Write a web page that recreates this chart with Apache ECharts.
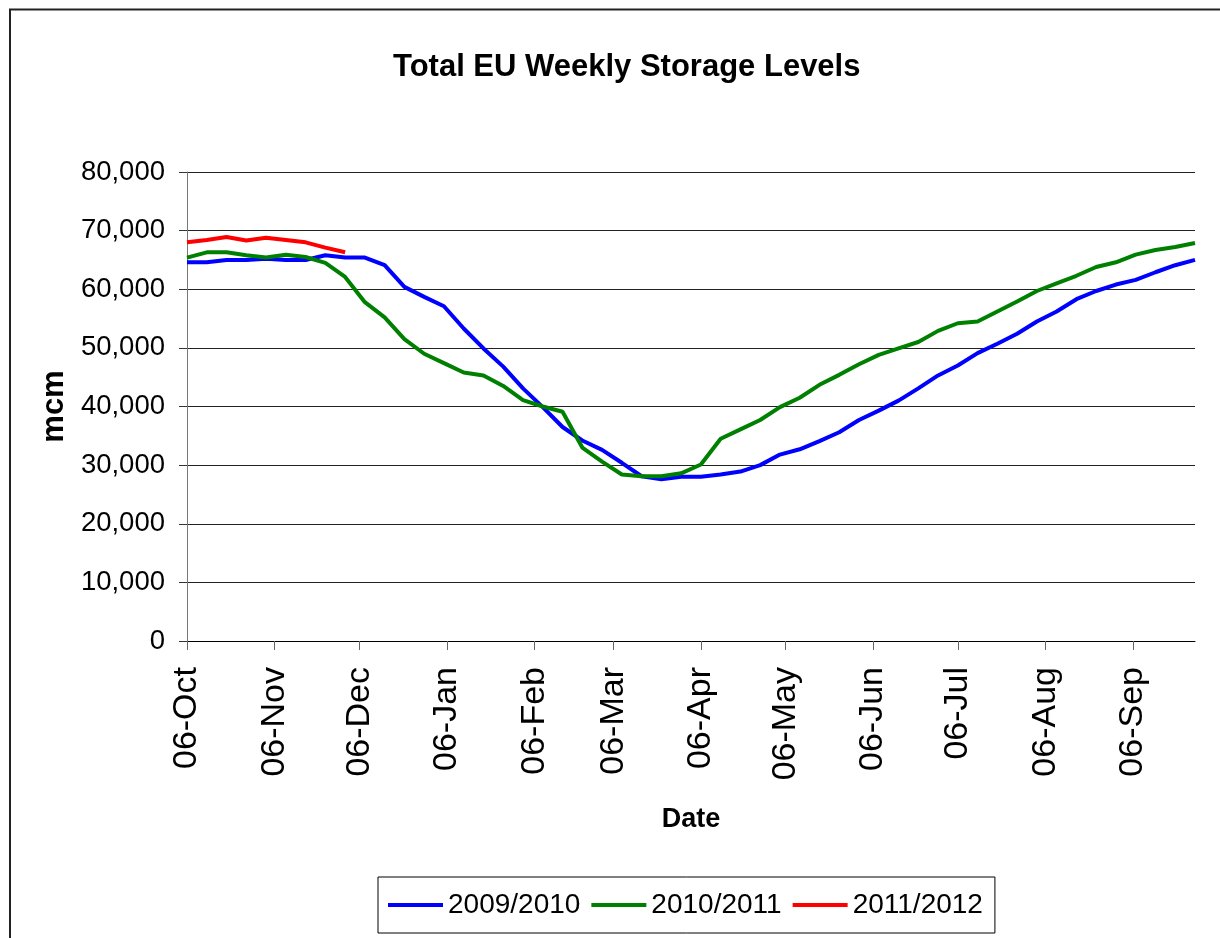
<!DOCTYPE html>
<html>
<head>
<meta charset="utf-8">
<title>Total EU Weekly Storage Levels</title>
<script src="https://cdn.jsdelivr.net/npm/echarts@6/dist/echarts.min.js"></script>
<style>
  html, body { margin: 0; padding: 0; background: #fff; }
  #chart { width: 1220px; height: 938px; }
</style>
</head>
<body>
<div id="chart"></div>
<script>
// weekly storage, mcm - one point every 7 days starting 06-Oct
var s0910 = [64600, 64600, 65000, 65000, 65200, 65000, 65000, 65800, 65400, 65400,
  64100, 60400, 58700, 57100, 53300, 49900, 46800, 43100, 39900, 36500,
  34200, 32600, 30400, 28100, 27600, 28000, 28000, 28400, 28900, 30000,
  31800, 32700, 34100, 35600, 37700, 39300, 41000, 43100, 45300, 47000,
  49100, 50700, 52400, 54500, 56200, 58300, 59700, 60800, 61600, 62900,
  64100, 65000];
var s1011 = [65400, 66300, 66300, 65800, 65400, 65900, 65500, 64500, 62100, 57800,
  55200, 51500, 49000, 47400, 45800, 45300, 43500, 41100, 40000, 39100,
  33000, 30600, 28400, 28100, 28100, 28600, 30100, 34500, 36100, 37700,
  39900, 41500, 43700, 45400, 47200, 48800, 49900, 51000, 52900, 54200,
  54500, 56200, 57900, 59700, 61000, 62300, 63800, 64600, 65900, 66700,
  67200, 67900];
var s1112 = [68000, 68400, 68900, 68300, 68800, 68400, 68000, 67100, 66300];
var seriesNames = ['2009/2010', '2010/2011', '2011/2012'];
var monthNames = ['Jan', 'Feb', 'Mar', 'Apr', 'May', 'Jun', 'Jul', 'Aug', 'Sep', 'Oct', 'Nov', 'Dec'];

// daily axis from 06-Oct to 28-Sep (51 weeks)
var days = [];
var start = new Date(2010, 9, 6);
for (var i = 0; i <= 357; i++) {
  var d = new Date(start.getTime());
  d.setDate(start.getDate() + i);
  days.push(d);
}
var dayLabels = days.map(function (d) {
  return (d.getDate() < 10 ? '0' : '') + d.getDate() + '-' + monthNames[d.getMonth()];
});
function isSixth(idx) { return days[idx].getDate() === 6; }

function weekly(arr) {
  return arr.map(function (v, k) { return [k * 7, v]; });
}

var font = "'Liberation Sans', Arial, sans-serif";

var chart = echarts.init(document.getElementById('chart'));
var option = {
  animation: false,
  backgroundColor: '#fff',
  graphic: [{
    type: 'rect',
    shape: { x: 10, y: 9.5, width: 1400, height: 1100 },
    style: { fill: 'none', stroke: '#222', lineWidth: 2 },
    silent: true
  }],
  title: {
    text: 'Total EU Weekly Storage Levels',
    left: 388,
    top: 47,
    textStyle: { fontFamily: font, fontWeight: 'bold', fontSize: 31, color: '#000' }
  },
  legend: {
    data: seriesNames,
    left: 378,
    top: 877,
    orient: 'horizontal',
    icon: 'rect',
    itemWidth: 55,
    itemHeight: 4,
    itemGap: 11,
    padding: [14, 12, 14, 10],
    borderColor: '#000',
    borderWidth: 1,
    textStyle: { fontFamily: font, fontSize: 28, color: '#000' }
  },
  grid: { left: 187, right: 25, top: 172, bottom: 297 },
  xAxis: {
    type: 'category',
    data: dayLabels,
    boundaryGap: false,
    name: 'Date',
    nameLocation: 'middle',
    nameGap: 165,
    nameTextStyle: { fontFamily: font, fontWeight: 'bold', fontSize: 27, color: '#000' },
    axisLine: { lineStyle: { color: '#000', width: 1 } },
    axisTick: { show: true, interval: isSixth, length: 9, lineStyle: { color: '#666' } },
    axisLabel: {
      interval: isSixth,
      rotate: 90,
      margin: 26,
      fontFamily: font,
      fontSize: 34,
      color: '#000'
    },
    splitLine: { show: false }
  },
  yAxis: {
    type: 'value',
    min: 0,
    max: 80000,
    interval: 10000,
    name: 'mcm',
    nameLocation: 'middle',
    nameGap: 83,
    nameTextStyle: { fontFamily: font, fontWeight: 'bold', fontSize: 31, color: '#000' },
    axisLine: { show: true, lineStyle: { color: '#777', width: 1 } },
    axisTick: { show: true, length: 8, lineStyle: { color: '#333' } },
    axisLabel: {
      margin: 22,
      fontFamily: font,
      fontSize: 27.5,
      color: '#000',
      formatter: function (v) { return v.toLocaleString('en-US'); }
    },
    splitLine: { lineStyle: { color: '#222', width: 1 } }
  },
  series: [
    { name: seriesNames[0], type: 'line', data: weekly(s0910), showSymbol: false, symbol: 'none',
      lineStyle: { color: '#0000ff', width: 4 }, itemStyle: { color: '#0000ff' } },
    { name: seriesNames[1], type: 'line', data: weekly(s1011), showSymbol: false, symbol: 'none',
      lineStyle: { color: '#008000', width: 4 }, itemStyle: { color: '#008000' } },
    { name: seriesNames[2], type: 'line', data: weekly(s1112), showSymbol: false, symbol: 'none',
      lineStyle: { color: '#ff0000', width: 4 }, itemStyle: { color: '#ff0000' } }
  ]
};
chart.setOption(option);
</script>
</body>
</html>
